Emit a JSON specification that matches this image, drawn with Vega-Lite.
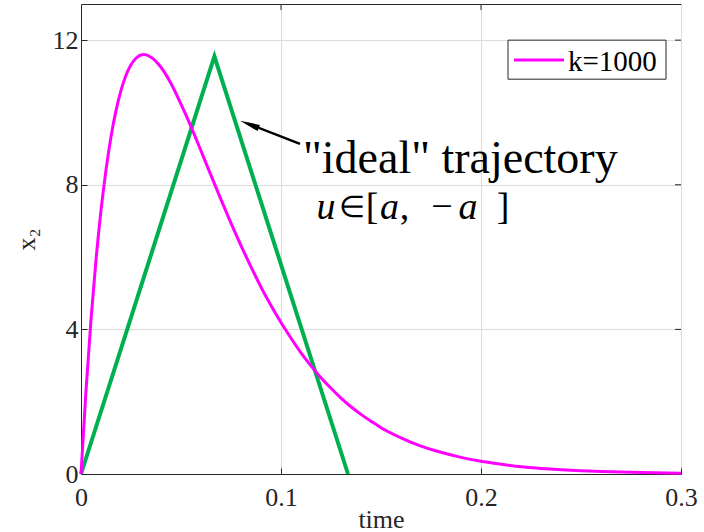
{
  "$schema": "https://vega.github.io/schema/vega-lite/v6.json",
  "width": 600,
  "height": 470,
  "autosize": {"type": "none"},
  "padding": {"left": 81, "top": 4, "right": 23, "bottom": 58},
  "background": "white",
  "config": {
    "font": "Liberation Serif",
    "view": {"stroke": "#262626", "strokeWidth": 1},
    "axis": {
      "labelFont": "Liberation Serif",
      "titleFont": "Liberation Serif",
      "labelFontSize": 26,
      "titleFontSize": 26,
      "labelColor": "#262626",
      "titleColor": "#262626",
      "titleFontWeight": "normal",
      "domainColor": "#262626",
      "tickColor": "#262626",
      "tickSize": -6,
      "labelFlush": false,
      "gridColor": "#dcdcdc",
      "gridWidth": 1
    }
  },
  "datasets": {
    "sim": [
      {"t": 0, "x2": 0},
      {"t": 0.0025, "x2": 2.31},
      {"t": 0.005, "x2": 4.27},
      {"t": 0.0075, "x2": 5.92},
      {"t": 0.01, "x2": 7.29},
      {"t": 0.0125, "x2": 8.41},
      {"t": 0.015, "x2": 9.33},
      {"t": 0.0175, "x2": 10.05},
      {"t": 0.02, "x2": 10.61},
      {"t": 0.0225, "x2": 11.03},
      {"t": 0.025, "x2": 11.32},
      {"t": 0.0275, "x2": 11.5},
      {"t": 0.03, "x2": 11.59},
      {"t": 0.0315, "x2": 11.6},
      {"t": 0.035, "x2": 11.53},
      {"t": 0.04, "x2": 11.25},
      {"t": 0.045, "x2": 10.8},
      {"t": 0.05, "x2": 10.23},
      {"t": 0.055, "x2": 9.61},
      {"t": 0.06, "x2": 8.94},
      {"t": 0.065, "x2": 8.26},
      {"t": 0.07, "x2": 7.59},
      {"t": 0.075, "x2": 6.94},
      {"t": 0.08, "x2": 6.32},
      {"t": 0.085, "x2": 5.73},
      {"t": 0.09, "x2": 5.17},
      {"t": 0.095, "x2": 4.66},
      {"t": 0.1, "x2": 4.19},
      {"t": 0.105, "x2": 3.76},
      {"t": 0.11, "x2": 3.35},
      {"t": 0.115, "x2": 2.99},
      {"t": 0.12, "x2": 2.66},
      {"t": 0.125, "x2": 2.37},
      {"t": 0.13, "x2": 2.1},
      {"t": 0.135, "x2": 1.86},
      {"t": 0.14, "x2": 1.65},
      {"t": 0.145, "x2": 1.46},
      {"t": 0.15, "x2": 1.28},
      {"t": 0.16, "x2": 1.0},
      {"t": 0.17, "x2": 0.77},
      {"t": 0.18, "x2": 0.6},
      {"t": 0.19, "x2": 0.46},
      {"t": 0.2, "x2": 0.35},
      {"t": 0.21, "x2": 0.27},
      {"t": 0.22, "x2": 0.2},
      {"t": 0.23, "x2": 0.155},
      {"t": 0.24, "x2": 0.12},
      {"t": 0.25, "x2": 0.09},
      {"t": 0.26, "x2": 0.07},
      {"t": 0.28, "x2": 0.04},
      {"t": 0.3, "x2": 0.02}
    ],
    "ideal": [
      {"t": 0, "x2": 0},
      {"t": 0.0667, "x2": 11.55},
      {"t": 0.1335, "x2": 0}
    ],
    "arrow": [
      {"t": 0.1095, "x2": 9.13, "t2": 0.0835, "y2": 9.69}
    ],
    "head": [
      {"t": 0.0842, "x2": 9.67}
    ],
    "frameTicks": [
      {"t": 0.1, "x2": 13, "t2": 0.1, "y2": 12.834},
      {"t": 0.2, "x2": 13, "t2": 0.2, "y2": 12.834},
      {"t": 0.3, "x2": 4, "t2": 0.297, "y2": 4},
      {"t": 0.3, "x2": 8, "t2": 0.297, "y2": 8},
      {"t": 0.3, "x2": 12, "t2": 0.297, "y2": 12}
    ],
    "legendBox": [
      {"t": 0.2135, "x2": 12.0, "t2": 0.2925, "y2": 10.92}
    ],
    "legendLine": [
      {"t": 0.2165, "x2": 11.45, "t2": 0.2415, "y2": 11.45}
    ],
    "legendText": [
      {"t": 0.2435, "x2": 11.14, "label": "k=1000"}
    ],
    "line1": [
      {"t": 0.111, "x2": 8.33, "label": "\"ideal\" trajectory"}
    ],
    "elem": [
      {"t": 0.1355, "x2": 7.1, "label": "∈"}
    ],
    "up": [
      {"t": 0.1455, "x2": 7.06, "label": "["},
      {"t": 0.1618, "x2": 7.06, "label": ","},
      {"t": 0.1805, "x2": 7.06, "label": "−"},
      {"t": 0.211, "x2": 7.06, "label": "]"}
    ],
    "ital": [
      {"t": 0.1225, "x2": 7.06, "label": "u"},
      {"t": 0.1542, "x2": 7.06, "label": "a"},
      {"t": 0.1935, "x2": 7.06, "label": "a"}
    ]
  },
  "encoding": {
    "x": {
      "field": "t", "type": "quantitative",
      "scale": {"domain": [0, 0.3], "nice": false, "zero": false},
      "axis": {"values": [0, 0.1, 0.2, 0.3], "title": "time", "labelPadding": 16, "titlePadding": -4, "format": "~g"}
    },
    "y": {
      "field": "x2", "type": "quantitative",
      "scale": {"domain": [0, 13], "nice": false},
      "axis": {"values": [0, 4, 8, 12], "title": "x₂", "labelPadding": 9, "titlePadding": 13}
    }
  },
  "layer": [
    {
      "data": {"name": "frameTicks"},
      "mark": {"type": "rule", "color": "#262626", "strokeWidth": 1},
      "encoding": {"x2": {"field": "t2"}, "y2": {"field": "y2"}}
    },
    {
      "data": {"name": "ideal"},
      "mark": {"type": "line", "color": "#00b050", "strokeWidth": 4}
    },
    {
      "data": {"name": "sim"},
      "mark": {"type": "line", "strokeWidth": 3, "interpolate": "monotone", "color": "#ff00ff"}
    },
    {
      "data": {"name": "arrow"},
      "mark": {"type": "rule", "color": "black", "strokeWidth": 2.5},
      "encoding": {"x2": {"field": "t2"}, "y2": {"field": "y2"}}
    },
    {
      "data": {"name": "head"},
      "mark": {"type": "point", "shape": "M0,-1L0.33,1L-0.33,1Z", "filled": true, "color": "black", "opacity": 1, "size": 400, "angle": 291}
    },
    {
      "data": {"name": "legendBox"},
      "mark": {"type": "rect", "fill": "white", "stroke": "#262626", "strokeWidth": 1},
      "encoding": {"x2": {"field": "t2"}, "y2": {"field": "y2"}}
    },
    {
      "data": {"name": "legendLine"},
      "mark": {"type": "rule", "color": "#ff00ff", "strokeWidth": 3},
      "encoding": {"x2": {"field": "t2"}, "y2": {"field": "y2"}}
    },
    {
      "data": {"name": "legendText"},
      "mark": {"type": "text", "align": "left", "baseline": "alphabetic", "fontSize": 29, "font": "Liberation Serif", "color": "black"},
      "encoding": {"text": {"field": "label"}}
    },
    {
      "data": {"name": "line1"},
      "mark": {"type": "text", "align": "left", "baseline": "alphabetic", "fontSize": 46, "font": "Liberation Serif", "color": "black"},
      "encoding": {"text": {"field": "label"}}
    },
    {
      "data": {"name": "elem"},
      "mark": {"type": "text", "align": "center", "baseline": "alphabetic", "fontSize": 30, "font": "Liberation Serif", "color": "black"},
      "encoding": {"text": {"field": "label"}}
    },
    {
      "data": {"name": "up"},
      "mark": {"type": "text", "align": "center", "baseline": "alphabetic", "fontSize": 38, "font": "Liberation Serif", "color": "black"},
      "encoding": {"text": {"field": "label"}}
    },
    {
      "data": {"name": "ital"},
      "mark": {"type": "text", "align": "center", "baseline": "alphabetic", "fontSize": 38, "font": "Liberation Serif", "fontStyle": "italic", "color": "black"},
      "encoding": {"text": {"field": "label"}}
    }
  ]
}
